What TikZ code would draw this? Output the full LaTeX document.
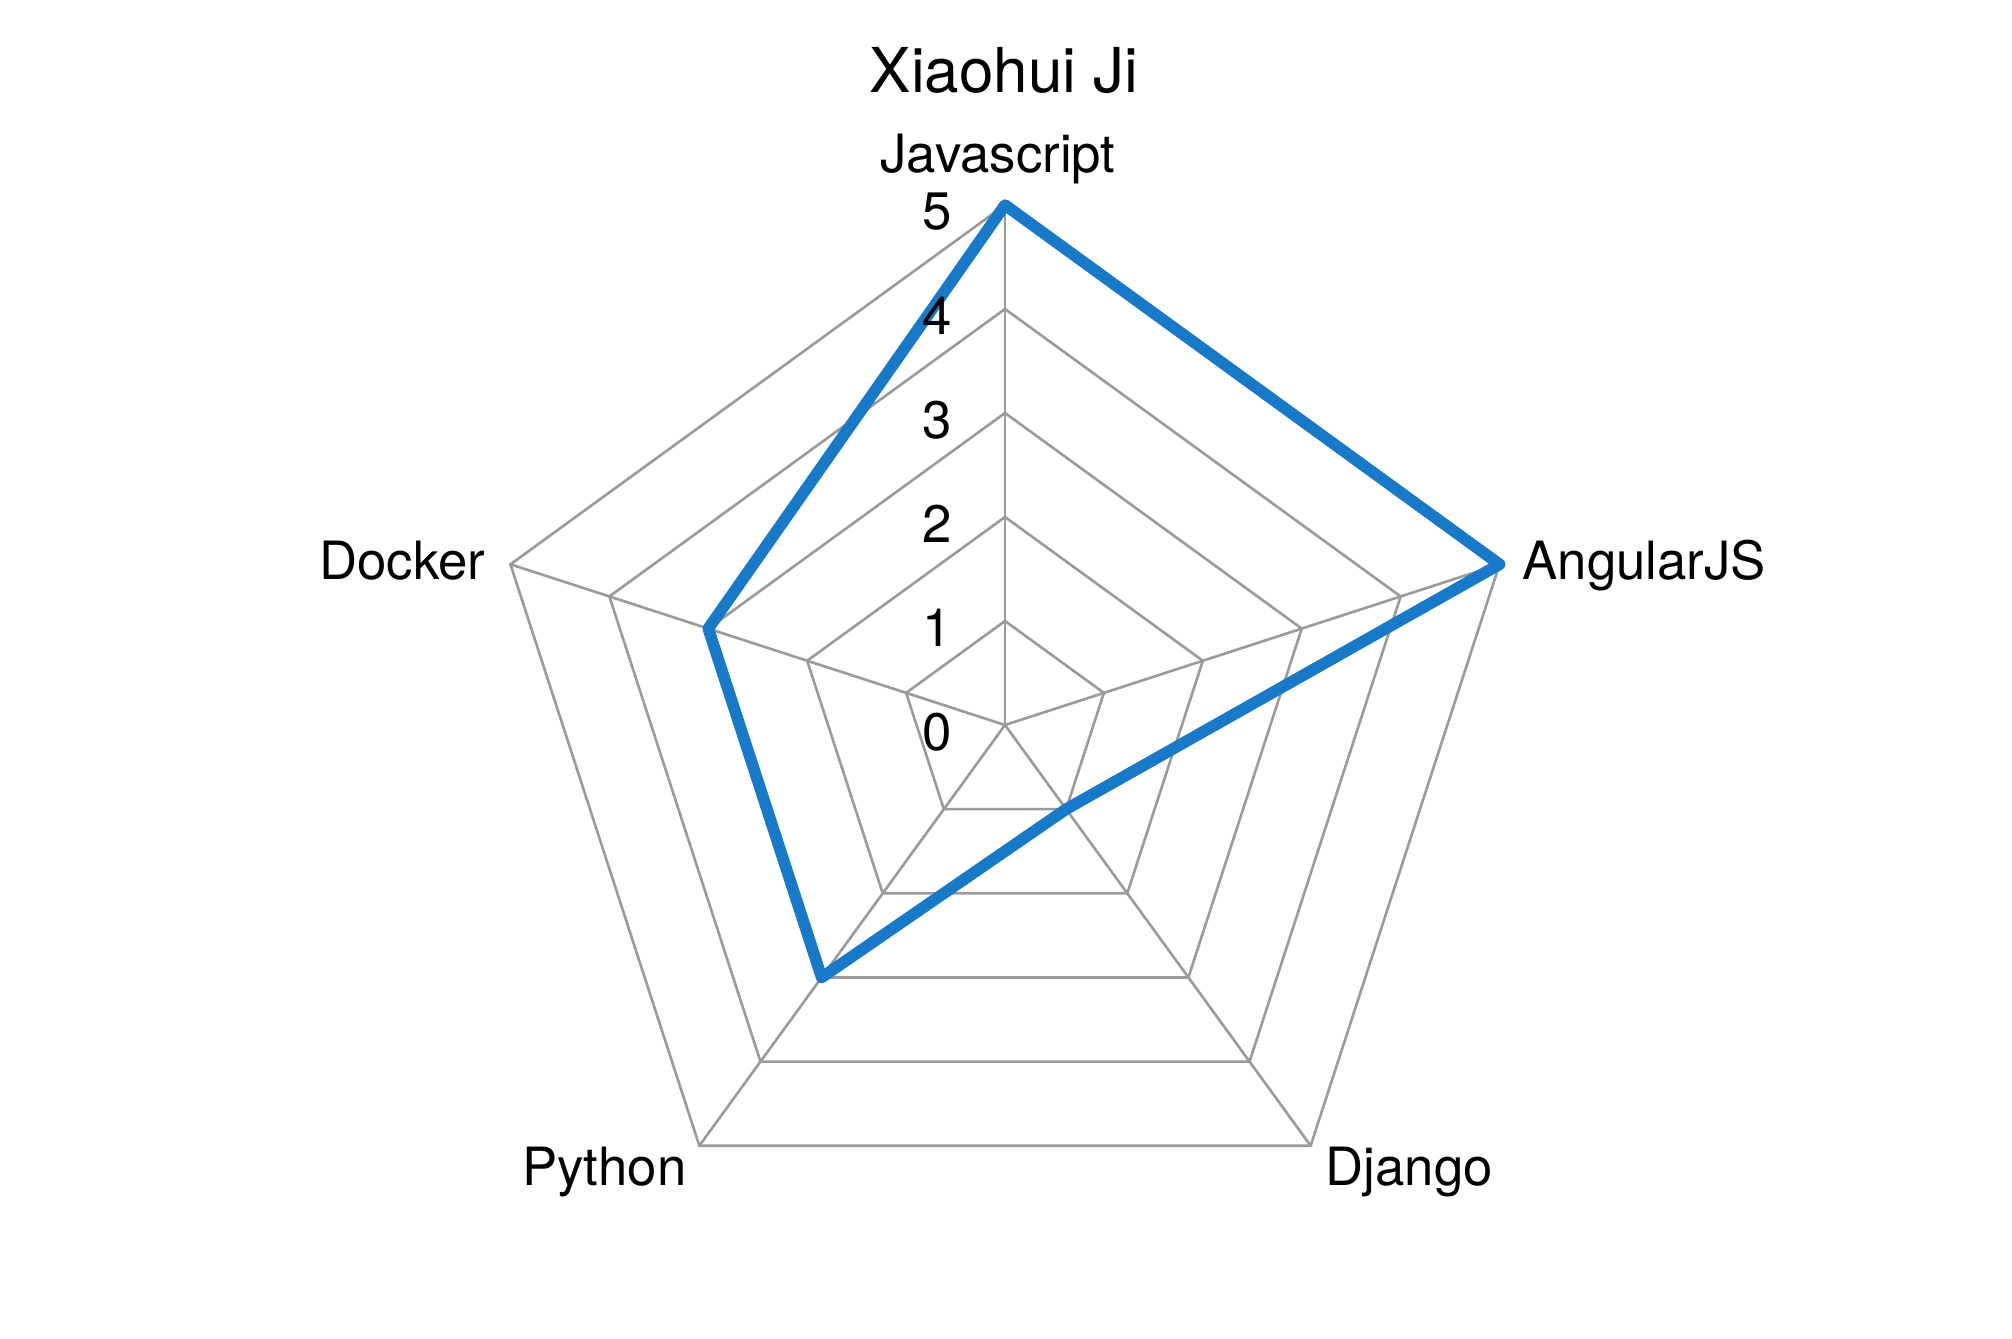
\documentclass[tikz,border=0pt]{standalone}
\usepackage{fontspec}
\setmainfont{TeX Gyre Heros}
\definecolor{gridgray}{HTML}{9B9B9B}
\definecolor{seriesblue}{HTML}{1779C8}
\begin{document}
\begin{tikzpicture}[x=0.01cm,y=-0.01cm,
  grid/.style={draw=gridgray,line width=0.75pt},
  series/.style={draw=seriesblue,line width=3.3pt,line join=round,line cap=round},
  axislabel/.style={inner sep=0pt,font=\fontsize{15pt}{17pt}\selectfont},
  ticklabel/.style={inner sep=0pt,anchor=east,font=\fontsize{15pt}{17pt}\selectfont},
  titlelabel/.style={inner sep=0pt,anchor=base,font=\fontsize{17.6pt}{20pt}\selectfont}]
\useasboundingbox (0,0) rectangle (2012,1338);
\coordinate (O) at (1005,725);
\foreach \nm/\ang in {js/90, ng/18, dj/-54, py/-126, dk/162} {
  \foreach \r in {1,...,5} {
    \coordinate (\nm\r) at ({1005+104*\r*cos(\ang)}, {725-104*\r*sin(\ang)});
  }
}
% rings
\foreach \r in {1,...,5}
  \draw[grid] (js\r) -- (ng\r) -- (dj\r) -- (py\r) -- (dk\r) -- cycle;
% spokes
\foreach \nm in {js,ng,dj,py,dk}
  \draw[grid] (O) -- (\nm5);
% data series
\draw[series] (js5) -- (ng5) -- (dj1) -- (py3) -- (dk3) -- cycle;
% tick labels
\foreach \r in {0,...,5}
  \node[ticklabel] (t\r) at (953,{732-104*\r}) {\r};
% axis labels
\node[axislabel,anchor=base] (ljs) at (998,172) {Javascript};
\node[axislabel,anchor=base west] (lng) at (1522,579) {AngularJS};
\node[axislabel,anchor=base west] (ldj) at (1325,1185) {Django};
\node[axislabel,anchor=base east] (lpy) at (687,1185) {Python};
\node[axislabel,anchor=base east] (ldk) at (486,579) {Docker};
% title
\node[titlelabel] (title) at (1004,92) {Xiaohui Ji};
\end{tikzpicture}
\end{document}
